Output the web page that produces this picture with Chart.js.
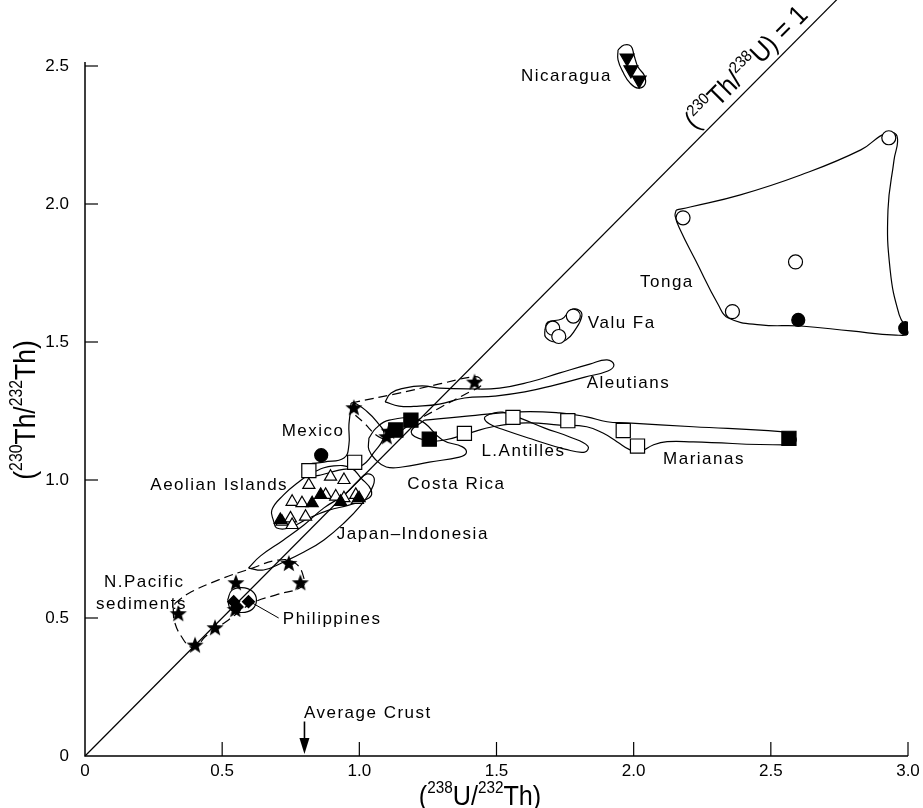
<!DOCTYPE html>
<html>
<head>
<meta charset="utf-8">
<script src="https://cdn.jsdelivr.net/npm/chart.js@4.4.1/dist/chart.umd.min.js"></script>
<style>
  html, body { margin: 0; padding: 0; background: #fff; }
</style>
</head>
<body>
<canvas id="chart" width="923" height="808"></canvas>
<script>
// tick values
var xTicks = [0, 0.5, 1.0, 1.5, 2.0, 2.5, 3.0];
var yTicks = [0, 0.5, 1.0, 1.5, 2.0, 2.5];

// sample points, [U238/Th232, Th230/Th232]
var stars = [[0.98,1.26],[1.42,1.353],[1.109,1.175],[1.10,1.155],[0.743,0.696],[0.785,0.626],
             [0.55,0.626],[0.34,0.514],[0.548,0.529],[0.474,0.463],[0.401,0.40]];
var filledSquares = [[1.133,1.181],[1.188,1.217],[1.255,1.148],[2.566,1.151]];
var openSquares = [[0.816,1.034],[0.983,1.064],[1.383,1.169],[1.56,1.227],[1.76,1.215],[1.962,1.179],[2.014,1.123]];
var filledCircles = [[0.861,1.09],[2.60,1.58],[2.99,1.55]];
var openCircles = [[2.18,1.95],[2.93,2.24],[2.59,1.79],[2.36,1.61],[1.705,1.55],[1.78,1.594],[1.727,1.52]];
var openTriangles = [[0.816,0.982],[0.895,1.012],[0.944,1.0],[0.755,0.921],[0.791,0.916],[0.877,0.946],[0.914,0.94],
                     [0.944,0.934],[0.987,0.946],[0.993,0.928],[0.749,0.861],[0.804,0.867],[0.718,0.849],[0.755,0.837]];
var filledTriangles = [[0.828,0.916],[0.859,0.946],[0.932,0.921],[0.999,0.934],[0.712,0.855]];
var nicaragua = [[1.976,2.529],[1.99,2.486],[2.02,2.449]];
var philippines = [[0.542,0.559],[0.554,0.541],[0.596,0.559]];

// equiline (230Th/238U) = 1
var equiline = [[0,0],[2.82,2.82]];

// field outlines
var tongaField = [[2.155,1.978],[2.206,1.989],[2.389,2.033],[2.609,2.105],[2.828,2.196],[2.92,2.257],[2.96,2.246],
  [2.949,2.159],[2.927,1.978],[2.935,1.761],[2.968,1.598],[3.0,1.533],[2.956,1.525],[2.792,1.54],[2.609,1.558],
  [2.462,1.562],[2.345,1.587],[2.309,1.634],[2.225,1.797],[2.17,1.906],[2.151,1.957]];
var valuFaField = [[1.676,1.543],[1.687,1.572],[1.738,1.583],[1.771,1.616],[1.8,1.616],[1.811,1.594],[1.786,1.543],
  [1.753,1.507],[1.712,1.5],[1.679,1.518]];
var nicaraguaField = [[1.943,2.558],[1.965,2.576],[1.99,2.572],[2.001,2.54],[2.016,2.496],[2.038,2.467],[2.042,2.435],
  [2.016,2.42],[1.987,2.438],[1.961,2.478],[1.943,2.522]];
var aleutiansField = [[1.094,1.283],[1.116,1.315],[1.164,1.333],[1.229,1.341],[1.292,1.333],[1.401,1.33],[1.511,1.333],
  [1.621,1.355],[1.731,1.388],[1.84,1.42],[1.903,1.435],[1.928,1.417],[1.906,1.395],[1.822,1.373],[1.712,1.344],
  [1.603,1.319],[1.493,1.304],[1.383,1.297],[1.292,1.275],[1.218,1.268],[1.145,1.268]];
var mariananField = [[1.237,1.217],[1.365,1.229],[1.584,1.247],[1.731,1.243],[1.829,1.229],[1.903,1.211],[1.976,1.207],
  [2.217,1.193],[2.536,1.175],[2.583,1.163],[2.591,1.139],[2.561,1.127],[2.217,1.138],[2.122,1.139],[2.071,1.127],
  [2.023,1.103],[1.987,1.109],[1.939,1.139],[1.888,1.17],[1.829,1.193],[1.731,1.199],[1.61,1.207],[1.486,1.193],
  [1.401,1.17],[1.31,1.145],[1.237,1.145],[1.189,1.174]];
var antillesField = [[1.475,1.239],[1.522,1.246],[1.584,1.225],[1.676,1.188],[1.767,1.156],[1.833,1.123],[1.822,1.101],
  [1.749,1.112],[1.639,1.145],[1.529,1.181],[1.475,1.203],[1.456,1.225]];
var costaRicaField = [[1.035,1.152],[1.061,1.188],[1.109,1.217],[1.218,1.217],[1.303,1.145],[1.376,1.12],[1.39,1.098],
  [1.365,1.083],[1.255,1.065],[1.156,1.047],[1.098,1.047],[1.061,1.072],[1.035,1.109]];
var mexicoField = [[0.984,1.279],[1.021,1.254],[1.065,1.21],[1.09,1.163],[1.054,1.101],[1.006,1.051],[0.926,1.036],
  [0.834,1.014],[0.798,1.022],[0.801,1.051],[0.871,1.065],[0.944,1.08],[0.962,1.127],[0.962,1.199],[0.97,1.254]];
var mexicoDashed = [[0.97,1.279],[1.145,1.315],[1.292,1.348],[1.409,1.373],[1.438,1.37],[1.445,1.344],[1.401,1.319],
  [1.292,1.261],[1.182,1.199],[1.109,1.152],[1.072,1.156],[1.017,1.207],[0.97,1.254]];
var aeolianField = [[0.688,0.848],[0.681,0.891],[0.724,0.946],[0.779,0.993],[0.834,1.029],[0.907,1.051],[0.97,1.043],
  [1.006,1.007],[1.043,0.964],[1.035,0.935],[0.962,0.909],[0.889,0.891],[0.816,0.862],[0.743,0.826],[0.699,0.826]];
var japanField = [[0.596,0.681],[0.64,0.725],[0.724,0.783],[0.798,0.837],[0.871,0.899],[0.944,0.946],[0.992,0.993],
  [1.028,1.022],[1.054,1.007],[1.043,0.964],[1.006,0.909],[0.944,0.844],[0.871,0.783],[0.798,0.739],[0.724,0.703],[0.651,0.674]];
var pacificField = [[0.328,0.553],[0.377,0.589],[0.487,0.638],[0.608,0.68],[0.706,0.71],[0.767,0.698],[0.798,0.644],
  [0.791,0.613],[0.694,0.583],[0.608,0.553],[0.523,0.493],[0.438,0.432],[0.407,0.396],[0.383,0.396],[0.352,0.432],
  [0.328,0.481],[0.322,0.529]];
var philippinesField = [[0.52,0.565],[0.535,0.6],[0.571,0.61],[0.61,0.597],[0.625,0.565],[0.61,0.532],[0.571,0.52],[0.532,0.53]];

var FONT = "'Liberation Sans', Arial, Helvetica, sans-serif";

function pts(arr) { return arr.map(function (p) { return { x: p[0], y: p[1] }; }); }
function closed(arr) { return pts(arr.concat([arr[0]])); }

function makeStar(r) {
  var c = document.createElement('canvas');
  var s = Math.ceil(r * 2 + 2);
  c.width = s; c.height = s;
  var g = c.getContext('2d');
  g.beginPath();
  for (var i = 0; i < 10; i++) {
    var rad = i % 2 === 0 ? r : r * 0.42;
    var a = -Math.PI / 2 + i * Math.PI / 5;
    var px = s / 2 + rad * Math.cos(a), py = s / 2 + rad * Math.sin(a);
    if (i) g.lineTo(px, py); else g.moveTo(px, py);
  }
  g.closePath();
  g.fillStyle = '#000';
  g.fill();
  return c;
}
var starImg = makeStar(9);

function markers(data, style, fill, radius, extra) {
  var ds = {
    data: pts(data), showLine: false, pointStyle: style, pointRadius: radius,
    pointBackgroundColor: fill, pointBorderColor: '#000', pointBorderWidth: 1.2, order: 0
  };
  return Object.assign(ds, extra || {});
}
function outline(data, dashed) {
  return {
    data: closed(data), showLine: true, pointRadius: 0, borderColor: '#000', borderWidth: 1.2,
    tension: 0.45, fill: false, borderDash: dashed ? [9, 5] : [], order: 2, clip: false
  };
}

var notes = [
  { t: 'Nicaragua', x: 1.921, y: 2.464, align: 'right' },
  { t: 'Tonga', x: 2.023, y: 1.717 },
  { t: 'Valu Fa', x: 1.833, y: 1.569 },
  { t: 'Aleutians', x: 1.829, y: 1.351 },
  { t: 'Mexico', x: 0.717, y: 1.178 },
  { t: 'L.Antilles', x: 1.445, y: 1.105 },
  { t: 'Marianas', x: 2.107, y: 1.076 },
  { t: 'Costa Rica', x: 1.175, y: 0.986 },
  { t: 'Aeolian Islands', x: 0.238, y: 0.982 },
  { t: 'Japan\u2013Indonesia', x: 0.918, y: 0.804 },
  { t: 'N.Pacific', x: 0.069, y: 0.630 },
  { t: 'sediments', x: 0.040, y: 0.551 },
  { t: 'Philippines', x: 0.721, y: 0.496 },
  { t: 'Average Crust', x: 0.798, y: 0.156 }
];

// text with superscripts, squeezed horizontally like the condensed original
function drawRich(ctx, parts, x, y, size, supSize, align, squeeze) {
  var w = 0;
  parts.forEach(function (p) {
    ctx.font = (p.sup ? supSize : size) + 'px ' + FONT;
    w += ctx.measureText(p.t).width;
  });
  ctx.save();
  ctx.translate(x, y);
  ctx.scale(squeeze, 1);
  var cx = align === 'center' ? -w / 2 : 0;
  parts.forEach(function (p) {
    ctx.font = (p.sup ? supSize : size) + 'px ' + FONT;
    ctx.fillText(p.t, cx, p.sup ? -size * 0.42 : 0);
    cx += ctx.measureText(p.t).width;
  });
  ctx.restore();
}

var decor = {
  id: 'decor',
  afterDatasetsDraw: function (chart) {
    var ctx = chart.ctx, xs = chart.scales.x, ys = chart.scales.y;
    var a = chart.chartArea;
    ctx.save();
    ctx.strokeStyle = '#000';
    ctx.fillStyle = '#000';
    // axes
    ctx.lineWidth = 1.5;
    ctx.beginPath();
    ctx.moveTo(a.left, a.top - 4);
    ctx.lineTo(a.left, a.bottom);
    ctx.lineTo(a.right, a.bottom);
    ctx.stroke();
    // inward ticks
    ctx.lineWidth = 1.2;
    xTicks.forEach(function (v) {
      if (!v) return;
      var px = xs.getPixelForValue(v);
      ctx.beginPath(); ctx.moveTo(px, a.bottom); ctx.lineTo(px, a.bottom - 14); ctx.stroke();
    });
    yTicks.forEach(function (v) {
      if (!v) return;
      var py = ys.getPixelForValue(v);
      ctx.beginPath(); ctx.moveTo(a.left, py); ctx.lineTo(a.left + 13, py); ctx.stroke();
    });
    // labels
    ctx.font = '17px ' + FONT;
    ctx.letterSpacing = '1.5px';
    ctx.textBaseline = 'middle';
    notes.forEach(function (n) {
      ctx.textAlign = n.align || 'left';
      ctx.fillText(n.t, xs.getPixelForValue(n.x), ys.getPixelForValue(n.y));
    });
    ctx.letterSpacing = '0px';
    // Philippines leader
    ctx.lineWidth = 1;
    ctx.beginPath();
    ctx.moveTo(xs.getPixelForValue(0.607), ys.getPixelForValue(0.556));
    ctx.lineTo(xs.getPixelForValue(0.706), ys.getPixelForValue(0.500));
    ctx.stroke();
    // average crust arrow
    var ax = xs.getPixelForValue(0.8);
    ctx.lineWidth = 1.6;
    ctx.beginPath(); ctx.moveTo(ax, ys.getPixelForValue(0.125)); ctx.lineTo(ax, a.bottom - 14); ctx.stroke();
    ctx.beginPath();
    ctx.moveTo(ax - 5, a.bottom - 18); ctx.lineTo(ax + 5, a.bottom - 18); ctx.lineTo(ax, a.bottom - 2);
    ctx.closePath(); ctx.fill();
    // axis titles
    ctx.textAlign = 'left';
    ctx.textBaseline = 'alphabetic';
    var xParts = [{ t: '(' }, { t: '238', sup: 1 }, { t: 'U/' }, { t: '232', sup: 1 }, { t: 'Th)' }];
    drawRich(ctx, xParts, 480, 805, 28, 17, 'center', 0.9);
    ctx.save();
    ctx.translate(35, 410);
    ctx.rotate(-Math.PI / 2);
    var yParts = [{ t: '(' }, { t: '230', sup: 1 }, { t: 'Th/' }, { t: '232', sup: 1 }, { t: 'Th)' }];
    drawRich(ctx, yParts, 0, 0, 30, 18, 'center', 0.88);
    ctx.restore();
    // equiline label
    var p0x = xs.getPixelForValue(2.245), p0y = ys.getPixelForValue(2.245);
    var p1x = xs.getPixelForValue(2.6), p1y = ys.getPixelForValue(2.6);
    ctx.save();
    ctx.translate(p0x, p0y);
    ctx.rotate(Math.atan2(p1y - p0y, p1x - p0x));
    var eParts = [{ t: '(' }, { t: '230', sup: 1 }, { t: 'Th/' }, { t: '238', sup: 1 }, { t: 'U) = 1' }];
    drawRich(ctx, eParts, 0, -8, 27, 16, 'left', 0.92);
    ctx.restore();
    ctx.restore();
  }
};

var datasets = [
  markers(stars, starImg, '#000', 9),
  markers(philippines, 'rectRot', '#000', 6),
  markers(nicaragua, 'triangle', '#000', 8, { rotation: 180, clip: false }),
  markers(filledTriangles, 'triangle', '#000', 7),
  markers(openTriangles, 'triangle', '#fff', 7),
  markers(filledSquares, 'rect', '#000', 10),
  markers(openSquares, 'rect', '#fff', 10),
  markers(filledCircles, 'circle', '#000', 6.5),
  markers(openCircles, 'circle', '#fff', 7),
  {
    data: pts(equiline), showLine: true, pointRadius: 0, borderColor: '#000', borderWidth: 1.2,
    order: 3, clip: false
  },
  outline(tongaField), outline(valuFaField), outline(nicaraguaField), outline(aleutiansField),
  outline(mariananField), outline(antillesField), outline(costaRicaField), outline(mexicoField),
  outline(mexicoDashed, true), outline(aeolianField), outline(japanField), outline(pacificField, true),
  outline(philippinesField)
];

new Chart(document.getElementById('chart').getContext('2d'), {
  type: 'scatter',
  data: { datasets: datasets },
  options: {
    responsive: false,
    animation: false,
    layout: { padding: { top: 66, right: 15, left: 0, bottom: 0 } },
    plugins: { legend: { display: false }, tooltip: { enabled: false } },
    scales: {
      x: {
        type: 'linear', min: 0, max: 3,
        afterFit: function (s) { s.height = 52; },
        afterBuildTicks: function (s) { s.ticks = xTicks.map(function (v) { return { value: v }; }); },
        grid: { display: false }, border: { display: false },
        ticks: {
          color: '#000', padding: -3, font: { size: 17, family: FONT },
          callback: function (v) { return v === 0 ? '0' : v.toFixed(1); }
        }
      },
      y: {
        type: 'linear', min: 0, max: 2.5,
        afterFit: function (s) { s.width = 85; },
        afterBuildTicks: function (s) { s.ticks = yTicks.map(function (v) { return { value: v }; }); },
        grid: { display: false }, border: { display: false },
        ticks: {
          color: '#000', padding: 8, font: { size: 17, family: FONT },
          callback: function (v) { return v === 0 ? '0' : v.toFixed(1); }
        }
      }
    }
  },
  plugins: [decor]
});
</script>
</body>
</html>
